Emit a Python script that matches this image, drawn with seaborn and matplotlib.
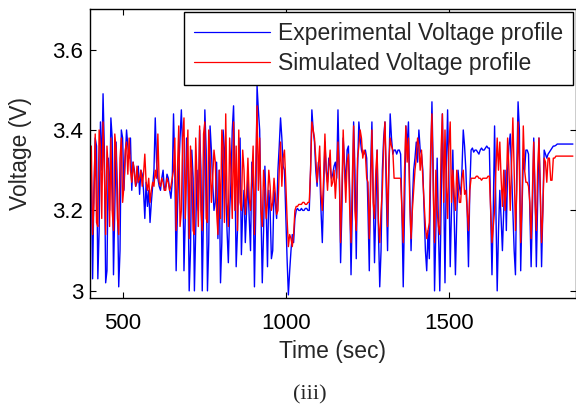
import numpy as np
import pandas as pd
import matplotlib
matplotlib.use("Agg")
import matplotlib.pyplot as plt
from matplotlib.ticker import FuncFormatter
import seaborn as sns

# sampling instants (sec), one sample every 4 s
time_s = np.arange(376, 1881, 4)

# experimental voltage (V)
exp_v = [
    3.36, 3.33, 3.30, 3.34, 3.37, 3.35, 3.38, 3.30, 3.03, 3.25, 3.38, 3.36, 3.03, 3.15, 3.42, 3.30, 3.49, 3.35, 3.02, 3.05,
    3.33, 3.20, 3.43, 3.38, 3.04, 3.20, 3.37, 3.25, 3.01, 3.10, 3.40, 3.38, 3.25, 3.33, 3.40, 3.36, 3.33, 3.38, 3.25, 3.32,
    3.30, 3.26, 3.27, 3.31, 3.24, 3.30, 3.29, 3.25, 3.18, 3.27, 3.21, 3.25, 3.17, 3.22, 3.26, 3.30, 3.43, 3.32, 3.28, 3.26,
    3.25, 3.28, 3.30, 3.25, 3.26, 3.29, 3.28, 3.25, 3.23, 3.27, 3.44, 3.30, 3.05, 3.20, 3.30, 3.38, 3.45, 3.35, 3.05, 3.18,
    3.38, 3.30, 3.00, 3.10, 3.35, 3.28, 3.00, 3.15, 3.30, 3.20, 3.40, 3.30, 3.00, 3.20, 3.45, 3.35, 3.00, 3.12, 3.41, 3.35,
    3.27, 3.20, 3.22, 3.32, 3.13, 3.30, 3.02, 3.12, 3.40, 3.35, 3.25, 3.15, 3.07, 3.20, 3.27, 3.40, 3.46, 3.30, 3.06, 3.15,
    3.30, 3.38, 3.09, 3.20, 3.25, 3.12, 3.20, 3.28, 3.18, 3.10, 3.32, 3.25, 3.01, 3.20, 3.51, 3.45, 3.40, 3.20, 3.02, 3.15,
    3.31, 3.20, 3.06, 3.25, 3.20, 3.08, 3.10, 3.25, 3.22, 3.18, 3.30, 3.36, 3.43, 3.38, 3.31, 3.30, 3.19, 3.08, 2.99, 3.05,
    3.10, 3.14, 3.12, 3.18, 3.20, 3.205, 3.20, 3.20, 3.205, 3.20, 3.20, 3.205, 3.205, 3.20, 3.20, 3.30, 3.45, 3.40, 3.37, 3.30,
    3.26, 3.32, 3.30, 3.20, 3.12, 3.25, 3.37, 3.30, 3.27, 3.33, 3.31, 3.28, 3.29, 3.31, 3.32, 3.28, 3.45, 3.30, 3.07, 3.20,
    3.38, 3.32, 3.26, 3.35, 3.36, 3.25, 3.04, 3.20, 3.42, 3.30, 3.08, 3.30, 3.42, 3.38, 3.35, 3.34, 3.34, 3.35, 3.33, 3.20,
    3.05, 3.30, 3.42, 3.25, 3.07, 3.20, 3.35, 3.15, 3.01, 3.10, 3.30, 3.38, 3.42, 3.25, 3.10, 3.30, 3.44, 3.38, 3.34, 3.35,
    3.35, 3.34, 3.35, 3.35, 3.34, 3.20, 3.01, 3.20, 3.41, 3.36, 3.42, 3.25, 3.10, 3.22, 3.30, 3.33, 3.37, 3.32, 3.40, 3.35,
    3.34, 3.30, 3.20, 3.10, 3.05, 3.15, 3.08, 3.30, 3.47, 3.30, 3.00, 3.15, 3.33, 3.15, 3.00, 3.20, 3.44, 3.25, 3.02, 3.30,
    3.45, 3.28, 3.06, 3.20, 3.35, 3.20, 3.04, 3.18, 3.30, 3.26, 3.24, 3.30, 3.40, 3.36, 3.30, 3.20, 3.06, 3.25, 3.35, 3.355,
    3.345, 3.35, 3.35, 3.345, 3.34, 3.35, 3.355, 3.35, 3.35, 3.355, 3.36, 3.355, 3.355, 3.20, 3.04, 3.20, 3.41, 3.20, 3.00, 3.15,
    3.25, 3.18, 3.10, 3.20, 3.30, 3.15, 3.30, 3.36, 3.39, 3.30, 3.20, 3.10, 3.04, 3.30, 3.47, 3.40, 3.05, 3.20, 3.33, 3.30,
    3.35, 3.35, 3.34, 3.20, 3.06, 3.20, 3.38, 3.25, 3.06, 3.22, 3.38, 3.25, 3.06, 3.20, 3.35, 3.34, 3.33, 3.34, 3.345, 3.35,
    3.355, 3.36, 3.36, 3.362, 3.365, 3.365, 3.365, 3.365, 3.365, 3.365, 3.365, 3.365, 3.365, 3.365, 3.365, 3.365, 3.365,
]

# simulated voltage (V)
sim_v = [
    3.27, 3.31, 3.30, 3.25, 3.26, 3.33, 3.30, 3.36, 3.14, 3.22, 3.39, 3.17, 3.16, 3.40, 3.36, 3.18, 3.42, 3.30, 3.14, 3.36,
    3.30, 3.16, 3.38, 3.20, 3.15, 3.39, 3.35, 3.18, 3.14, 3.33, 3.38, 3.22, 3.26, 3.35, 3.37, 3.29, 3.38, 3.30, 3.27, 3.32,
    3.29, 3.26, 3.31, 3.27, 3.28, 3.30, 3.26, 3.29, 3.34, 3.27, 3.25, 3.28, 3.22, 3.25, 3.27, 3.26, 3.30, 3.28, 3.39, 3.27,
    3.26, 3.28, 3.27, 3.25, 3.25, 3.28, 3.27, 3.25, 3.26, 3.28, 3.30, 3.38, 3.15, 3.30, 3.41, 3.16, 3.20, 3.38, 3.43, 3.18,
    3.30, 3.40, 3.13, 3.36, 3.30, 3.15, 3.14, 3.38, 3.28, 3.16, 3.41, 3.20, 3.15, 3.39, 3.42, 3.18, 3.17, 3.40, 3.33, 3.22,
    3.28, 3.35, 3.32, 3.20, 3.14, 3.30, 3.18, 3.40, 3.36, 3.17, 3.44, 3.22, 3.16, 3.38, 3.30, 3.18, 3.42, 3.20, 3.36, 3.15,
    3.40, 3.22, 3.20, 3.35, 3.30, 3.19, 3.24, 3.33, 3.23, 3.20, 3.28, 3.36, 3.14, 3.30, 3.46, 3.25, 3.38, 3.20, 3.16, 3.30,
    3.25, 3.18, 3.22, 3.30, 3.26, 3.20, 3.22, 3.28, 3.24, 3.19, 3.20, 3.30, 3.37, 3.26, 3.33, 3.35, 3.27, 3.18, 3.11, 3.14,
    3.13, 3.11, 3.14, 3.20, 3.21, 3.21, 3.215, 3.215, 3.215, 3.22, 3.22, 3.215, 3.215, 3.22, 3.22, 3.30, 3.42, 3.40, 3.38, 3.33,
    3.27, 3.31, 3.36, 3.24, 3.20, 3.28, 3.39, 3.30, 3.25, 3.31, 3.35, 3.26, 3.27, 3.30, 3.23, 3.29, 3.37, 3.30, 3.12, 3.25,
    3.40, 3.30, 3.22, 3.32, 3.34, 3.20, 3.12, 3.28, 3.41, 3.20, 3.15, 3.33, 3.36, 3.40, 3.38, 3.33, 3.35, 3.34, 3.28, 3.27,
    3.13, 3.25, 3.40, 3.22, 3.18, 3.30, 3.35, 3.17, 3.12, 3.20, 3.25, 3.36, 3.42, 3.30, 3.16, 3.32, 3.38, 3.36, 3.35, 3.28,
    3.28, 3.28, 3.28, 3.28, 3.28, 3.20, 3.12, 3.30, 3.41, 3.32, 3.38, 3.22, 3.13, 3.20, 3.25, 3.30, 3.33, 3.38, 3.36, 3.30,
    3.35, 3.28, 3.22, 3.16, 3.13, 3.15, 3.17, 3.35, 3.44, 3.25, 3.12, 3.30, 3.20, 3.16, 3.14, 3.35, 3.44, 3.22, 3.40, 3.26,
    3.18, 3.36, 3.42, 3.22, 3.30, 3.24, 3.20, 3.30, 3.26, 3.22, 3.22, 3.28, 3.30, 3.24, 3.25, 3.20, 3.15, 3.25, 3.28, 3.28,
    3.28, 3.28, 3.285, 3.285, 3.28, 3.28, 3.275, 3.28, 3.28, 3.28, 3.28, 3.285, 3.285, 3.20, 3.12, 3.16, 3.20, 3.30, 3.38, 3.30,
    3.37, 3.28, 3.21, 3.30, 3.20, 3.26, 3.38, 3.30, 3.20, 3.32, 3.43, 3.30, 3.15, 3.25, 3.42, 3.30, 3.12, 3.22, 3.41, 3.30,
    3.27, 3.27, 3.26, 3.22, 3.13, 3.25, 3.37, 3.22, 3.15, 3.30, 3.38, 3.25, 3.12, 3.20, 3.33, 3.32, 3.27, 3.33, 3.33, 3.275,
    3.275, 3.33, 3.33, 3.335, 3.335, 3.335, 3.335, 3.335, 3.335, 3.335, 3.335, 3.335, 3.335, 3.335, 3.335, 3.335, 3.335,
]

x_ticks = [500, 1000, 1500]
y_ticks = [3.0, 3.2, 3.4, 3.6]

assert len(exp_v) == len(time_s) == len(sim_v)
df = pd.DataFrame({"t": time_s, "exp": exp_v, "sim": sim_v})

sns.set_style("ticks")
plt.rcParams["font.family"] = ["Liberation Sans", "DejaVu Sans"]

fig = plt.figure(figsize=(5.76, 4.08), dpi=100)
ax = fig.add_axes([90 / 576, 1 - 297.7 / 408, 485.5 / 576, 288.4 / 408])

sns.lineplot(data=df, x="t", y="exp", color="#0000ff", lw=1.0,
             label="Experimental Voltage profile", ax=ax)
sns.lineplot(data=df, x="t", y="sim", color="#ff0000", lw=1.0,
             label="Simulated Voltage profile", ax=ax)

ax.set_xlim(400, 1888)
ax.set_ylim(2.983, 3.70)
ax.set_xticks(x_ticks)
ax.set_yticks(y_ticks)
ax.yaxis.set_major_formatter(FuncFormatter(lambda v, _: f"{v:g}"))

# matlab look: ticks inside, on every side
ax.tick_params(direction="in", top=True, right=True, length=4, width=0.8,
               labelsize=16, colors="black")
ax.tick_params(axis="x", pad=11)
ax.tick_params(axis="y", pad=5)
for sp in ax.spines.values():
    sp.set_visible(True)
    sp.set_color("black")
    sp.set_linewidth(1.0)

ax.set_xlabel("Time (sec)", fontsize=16.5)
ax.set_ylabel("Voltage (V)", fontsize=16.5)
ax.xaxis.set_label_coords(0.5, -0.148)
ax.yaxis.set_label_coords(-0.119, 0.5)

leg = ax.legend(loc="upper right", fontsize=16.5, handlelength=3.3,
                handletextpad=0.35, borderpad=0.45, labelspacing=0.3,
                borderaxespad=0.1, fancybox=False, framealpha=1,
                edgecolor="black")
leg.get_frame().set_linewidth(1.0)
for h in leg.get_lines():
    h.set_linewidth(0.9)

fig.text(0.538, 1 - 395 / 408, "(iii)", family=["Liberation Serif", "DejaVu Serif"],
         fontsize=16, ha="center", va="center")

fig.savefig("out.png", dpi=100)
